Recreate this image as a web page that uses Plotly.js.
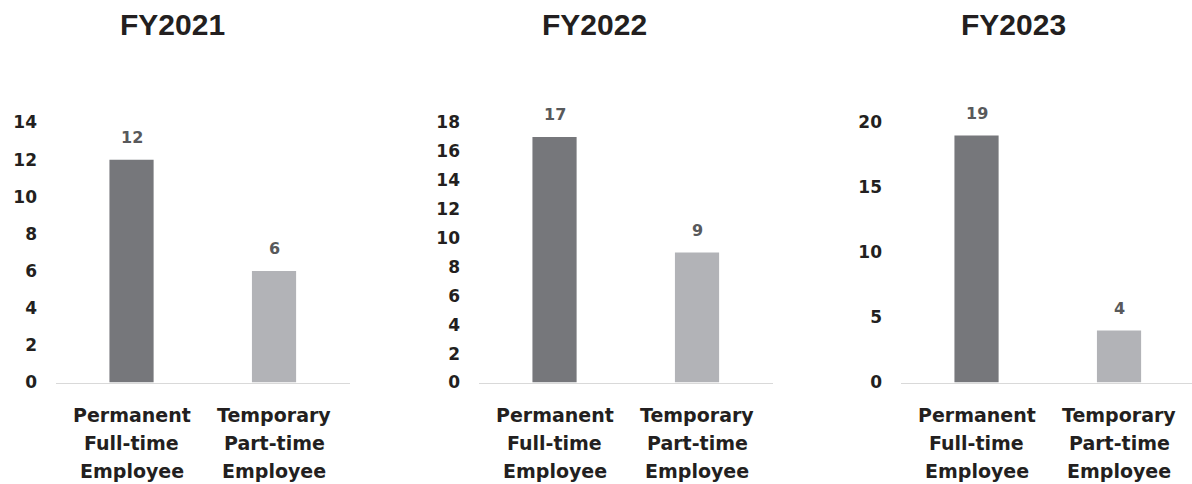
<!DOCTYPE html>
<html>
<head>
<meta charset="utf-8">
<script src="https://cdn.plot.ly/plotly-3.0.1.min.js"></script>
<style>
  html, body { margin: 0; padding: 0; background: #ffffff; }
  #chart { width: 1192px; height: 484px; }
</style>
</head>
<body>
<div id="chart"></div>
<script>
// Headcount by employment type, one panel per fiscal year
const years = ['FY2021', 'FY2022', 'FY2023'];
const categories = ['Permanent<br>Full-time<br>Employee', 'Temporary<br>Part-time<br>Employee'];
const permanentFullTime = [12, 17, 19];
const temporaryPartTime = [6, 9, 4];
const axisMax = [14, 18, 20];
const axisStep = [2, 2, 5];

const W = 1192, H = 484;
const barColors = ['#76777b', '#b2b3b7'];
const tickFont = { family: 'DejaVu Sans, sans-serif', size: 17, color: '#231f20', weight: 'bold' };
const panelLeft = [56, 479, 901];      // px where each plot area starts
const panelWidth = 294;
const plotTop = 122.5, plotBottom = 382.5;
const yDomain = [1 - plotBottom / H, 1 - plotTop / H];
const titleX = [172, 594, 1013];

const data = [];
const layout = {
  width: W, height: H,
  margin: { l: 0, r: 0, t: 0, b: 0 },
  paper_bgcolor: '#ffffff',
  plot_bgcolor: '#ffffff',
  showlegend: false,
  annotations: []
};

years.forEach((yr, i) => {
  const n = i === 0 ? '' : String(i + 1);
  const xa = 'x' + n, ya = 'y' + n;
  const values = [permanentFullTime[i], temporaryPartTime[i]];

  data.push({
    type: 'bar',
    x: categories,
    y: values,
    xaxis: xa, yaxis: ya,
    width: 0.31,
    marker: { color: barColors },
    hoverinfo: 'skip',
    cliponaxis: false
  });

  const d0 = panelLeft[i] / W;
  const d1 = Math.min(1, (panelLeft[i] + panelWidth) / W);
  const pxPerCat = 142.5;
  const rEnd = -0.53 + (d1 * W - panelLeft[i]) / pxPerCat;

  layout['xaxis' + n] = {
    domain: [d0, d1],
    anchor: ya,
    type: 'category',
    range: [-0.53, rEnd],
    showticklabels: false,
    showline: true,
    linecolor: '#d9d9d9',
    linewidth: 1.5,
    showgrid: false,
    zeroline: false,
    ticks: '',
    fixedrange: true
  };
  layout['yaxis' + n] = {
    domain: yDomain,
    anchor: xa,
    range: [0, axisMax[i]],
    tick0: 0,
    dtick: axisStep[i],
    showline: false,
    showgrid: false,
    zeroline: false,
    ticks: '',
    ticklabelstandoff: 18,
    tickfont: tickFont,
    fixedrange: true
  };

  // value labels above each bar
  values.forEach((v, j) => {
    layout.annotations.push({
      xref: xa, yref: ya,
      x: categories[j], y: v,
      text: String(v),
      showarrow: false,
      yanchor: 'bottom',
      yshift: 11,
      font: { family: 'DejaVu Sans, sans-serif', size: 16, color: '#58595b', weight: 'bold' }
    });
  });

  // category labels, one line at a time for the wide line spacing
  categories.forEach((c, j) => {
    c.split('<br>').forEach((line, k) => {
      layout.annotations.push({
        xref: xa, yref: 'paper',
        x: c, y: 1 - (415 + 28 * k) / H,
        text: line,
        showarrow: false,
        yanchor: 'middle',
        font: { family: 'DejaVu Sans, sans-serif', size: 19, color: '#231f20', weight: 'bold' }
      });
    });
  });

  // panel heading
  layout.annotations.push({
    xref: 'paper', yref: 'paper',
    x: titleX[i] / W, y: 1 - 24 / H,
    text: yr,
    showarrow: false,
    xanchor: 'center', yanchor: 'middle',
    font: { family: 'Liberation Sans, Arial, sans-serif', size: 30, color: '#231f20', weight: 'bold' }
  });
});

Plotly.newPlot('chart', data, layout, { displayModeBar: false, staticPlot: true });
</script>
</body>
</html>
